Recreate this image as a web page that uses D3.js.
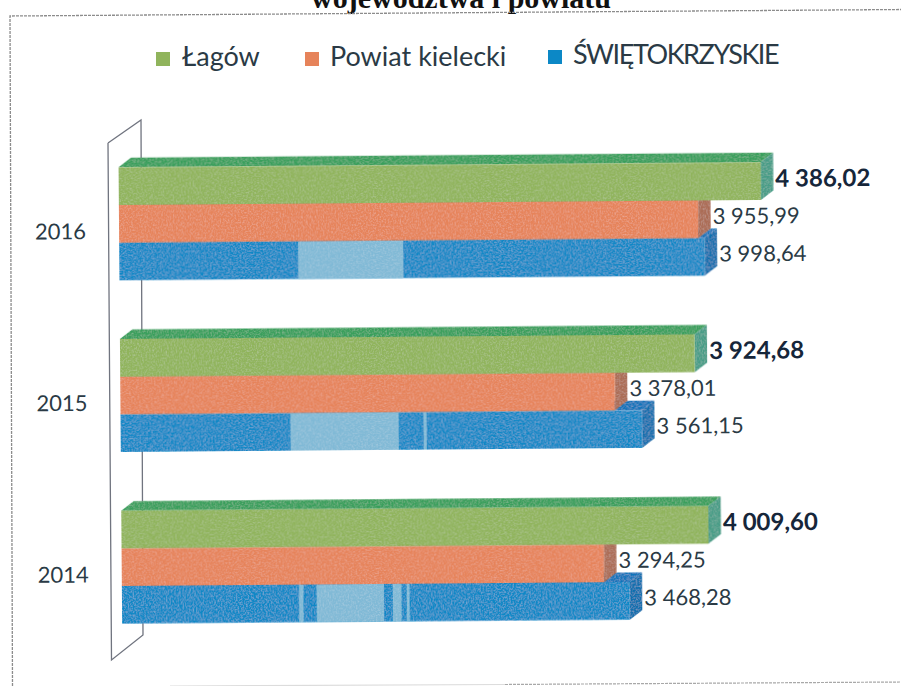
<!DOCTYPE html>
<html><head><meta charset="utf-8">
<script src="https://cdn.jsdelivr.net/npm/d3@7/dist/d3.min.js"></script>
<style>html,body{margin:0;padding:0;background:#fff}svg{display:block}</style>
</head><body><svg id="c" width="901" height="686"></svg>
<script>
const years = ["2016", "2015", "2014"];
const seriesNames = ["Łagów", "Powiat kielecki", "ŚWIĘTOKRZYSKIE"];
const lagow = [4386.02, 3924.68, 4009.60];
const powiat = [3955.99, 3378.01, 3294.25];
const swietokrzyskie = [3998.64, 3561.15, 3468.28];
const seriesValues = [lagow, powiat, swietokrzyskie];
const titleText = "województwa i powiatu";
const frontColors = ["#90b45c", "#e6835a", "#0c88c6"];
const topColors = ["#389f5c", "#bd7355", "#0b74ba"];
const sideColors = ["#469c86", "#ab6c54", "#0d70ae"];
// faded scan bands on the blue bars, in value units
const fadedBands = [
  [[1222, 1940]],
  [[1160, 1900], [2070, 2090]],
  [[1210, 1240], [1330, 1790], [1850, 1910], [1945, 1965]]
];

const svg = d3.select("#c");
const fmt = d3.formatLocale({decimal: ",", thousands: " ", grouping: [3], currency: ["", ""]}).format(",.2f");
const x = d3.scaleLinear().domain([0, 4500]).range([119, 777.8]);
const y = d3.scaleBand().domain(years).range([138, 653]);
const barsH = 113;
const s = d3.scaleBand().domain(seriesNames).range([0, barsH]);
const dx = 12.5, dy = 9.5;

const defs = svg.append("defs");
const f = defs.append("filter").attr("id", "scan").attr("x", "0").attr("y", "0").attr("width", "1").attr("height", "1");
f.append("feTurbulence").attr("type", "fractalNoise").attr("baseFrequency", 0.6).attr("numOctaves", 2).attr("seed", 4).attr("result", "n");
f.append("feColorMatrix").attr("in", "n").attr("type", "matrix")
 .attr("values", "0 0 0 0 1  0 0 0 0 1  0 0 0 0 1  0.45 0 0 0 -0.19").attr("result", "a");
f.append("feComposite").attr("in", "a").attr("in2", "SourceAlpha").attr("operator", "in").attr("result", "b");
f.append("feMerge").selectAll("feMergeNode").data(["SourceGraphic", "b"]).join("feMergeNode").attr("in", d => d);

// clipped title
svg.append("text").attr("x", 461).attr("y", 8).attr("text-anchor", "middle")
  .attr("font-family", "'Liberation Serif',serif").attr("font-weight", 700).attr("font-size", 30).attr("fill", "#111").text(titleText);

// outer frame
svg.append("path").attr("d", d3.line()([[12.5, 686], [10, 16], [901, 9.5]]))
  .attr("fill", "none").attr("stroke", "#8c8c8c").attr("stroke-width", 1.3).attr("stroke-dasharray", "3 1");
svg.append("path").attr("d", d3.line()([[505, 684.5], [901, 682]]))
  .attr("fill", "none").attr("stroke", "#a8a8a8").attr("stroke-width", 1.2).attr("stroke-dasharray", "3 1");
svg.append("path").attr("d", d3.line()([[170, 686], [505, 684.5]]))
  .attr("fill", "none").attr("stroke", "#dcdcdc").attr("stroke-width", 1.2);

// legend
const legX = [156, 305, 548], legTx = [182, 330, 573], legY = [66, 66, 64], legSpacing = [0, 0, -1.45];
const leg = svg.append("g").selectAll("g").data(seriesNames).join("g");
leg.append("rect").attr("x", (d, i) => legX[i]).attr("y", (d, i) => legY[i] - 14).attr("width", 14).attr("height", 14)
  .attr("fill", (d, i) => frontColors[i]);
leg.append("text").attr("x", (d, i) => legTx[i]).attr("y", (d, i) => legY[i]).attr("font-family", "Lato,sans-serif")
  .attr("font-size", 27).attr("letter-spacing", (d, i) => legSpacing[i]).attr("fill", "#2a3a45").text(d => d);

// category wall
svg.append("path").attr("d", d3.line()([[108, 143], [141, 120], [143, 635], [111.5, 660], [108, 143]]))
  .attr("fill", "none").attr("stroke", "#70747f").attr("stroke-width", 1.3);

const g = svg.append("g").attr("transform", "rotate(-0.45 119 222)");

// y axis labels
const axis = g.append("g").attr("transform", "translate(86,8)")
  .call(d3.axisLeft(y).tickSize(0).tickPadding(0));
axis.select(".domain").remove();
axis.selectAll("text").attr("font-family", "Lato,sans-serif").attr("font-size", 22).attr("fill", "#2a3a45");

// bars: draw from the back (lower) series forward
const yTop = yr => y(yr) + (y.bandwidth() - barsH) / 2;
[2, 1, 0].forEach(k => {
  years.forEach((yr, i) => {
    const v = seriesValues[k][i];
    const x0 = x(0), x1 = x(v);
    const y0 = yTop(yr) + s(seriesNames[k]), h = s.bandwidth();
    const bar = g.append("g").attr("filter", "url(#scan)");
    bar.append("path").attr("fill", topColors[k])
      .attr("d", d3.line()([[x0, y0], [x0 + dx, y0 - dy], [x1 + dx, y0 - dy], [x1, y0]]));
    bar.append("path").attr("fill", sideColors[k])
      .attr("d", d3.line()([[x1, y0], [x1 + dx, y0 - dy], [x1 + dx, y0 + h - dy], [x1, y0 + h]]));
    bar.append("rect").attr("x", x0).attr("y", y0).attr("width", x1 - x0).attr("height", h).attr("fill", frontColors[k]);
    if (k === 2) fadedBands[i].forEach(b => {
      bar.append("rect").attr("x", x(b[0])).attr("y", y0).attr("width", x(b[1]) - x(b[0])).attr("height", h).attr("fill", "#80b9d6");
    });
  });
});

// value labels
years.forEach((yr, i) => {
  seriesNames.forEach((nm, k) => {
    const v = seriesValues[k][i];
    g.append("text").attr("x", x(v) + dx + 2).attr("y", yTop(yr) + s(nm) + s.bandwidth() / 2 - dy / 2 + 1)
      .attr("dominant-baseline", "central").attr("font-family", "Lato,sans-serif")
      .attr("font-weight", k === 0 ? 700 : 400).attr("font-size", k === 0 ? 24 : 22)
      .attr("fill", k === 0 ? "#16263a" : "#2a3a45").text(fmt(v));
  });
});
</script></body></html>
